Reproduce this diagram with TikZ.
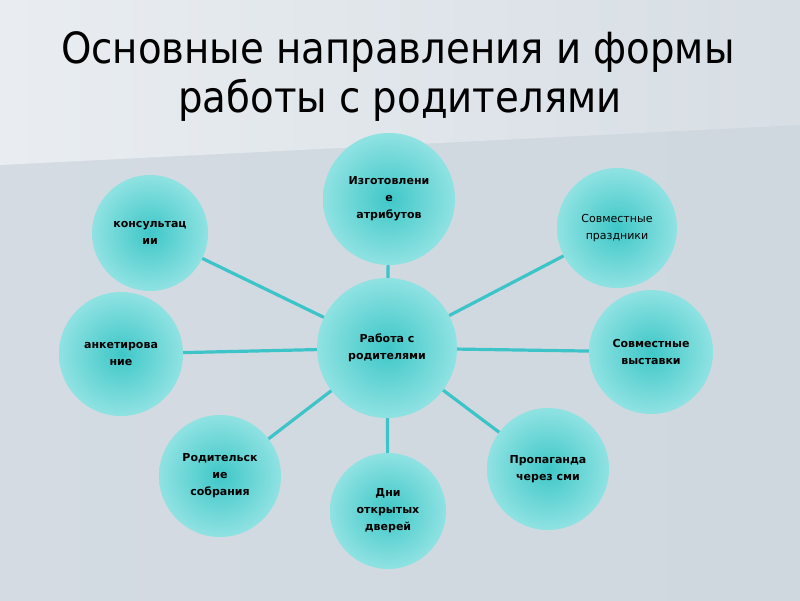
\documentclass[tikz,border=0pt]{standalone}
\usepackage{fontspec}
\setmainfont{DejaVu Sans}
\newfontfamily\titlefont{DejaVu Sans Condensed}
\definecolor{bgA}{HTML}{E9EDF1}
\definecolor{bgB}{HTML}{D7DEE4}
\definecolor{bgC}{HTML}{D4DBE2}
\definecolor{bgD}{HTML}{CFD8DF}
\definecolor{ballIn}{HTML}{3FC7C8}
\definecolor{ballOut}{HTML}{90E2E2}
\definecolor{linkc}{HTML}{3CC4C8}
\begin{document}
\begin{tikzpicture}[x=1pt,y=-1pt,
  ball/.style={circle, minimum size=#1, inner sep=0pt, shading=radial,
    inner color=ballIn, outer color=ballOut, align=center, text=black,
    font=\fontsize{11}{17}\selectfont\bfseries},
  ballreg/.style={ball=#1, font=\fontsize{11}{17}\selectfont},
  link/.style={draw=linkc, line width=3.2pt},
  ttl/.style={anchor=base, font=\titlefont\fontsize{43}{43}\selectfont, text=black}]
% background
\useasboundingbox (0,0) rectangle (800,600);
\shade[left color=bgC, right color=bgD] (0,0) rectangle (800,600);
\shade[left color=bgA, right color=bgB] (0,0) -- (800,0) -- (800,125) -- (0,165) -- cycle;
% title
\node[ttl] (t1) at (398,63) {Основные направления и формы};
\node[ttl] (t2) at (400,112) {работы с родителями};
% circles
\node[ball=140] (c) at (387,348) {Работа с\\родителями};
\node[ball=132] (izg) at (389,199) {Изготовлени\\е\\атрибутов};
\node[ball=116] (kons) at (150,233) {консультац\\ии};
\node[ballreg=120] (praz) at (617,228) {Совместные\\праздники};
\node[ball=124] (ank) at (121,354) {анкетирова\\ние};
\node[ball=124] (vys) at (651,352) {Совместные\\выставки};
\node[ball=122] (rod) at (220,476) {Родительск\\ие\\собрания};
\node[ball=116] (dni) at (388,511) {Дни\\открытых\\дверей};
\node[ball=122] (pro) at (548,469) {Пропаганда\\через сми};
% links
\foreach \n in {izg,kons,praz,ank,vys,rod,dni,pro}
  \draw[link] (c) -- (\n);
\end{tikzpicture}
\end{document}
